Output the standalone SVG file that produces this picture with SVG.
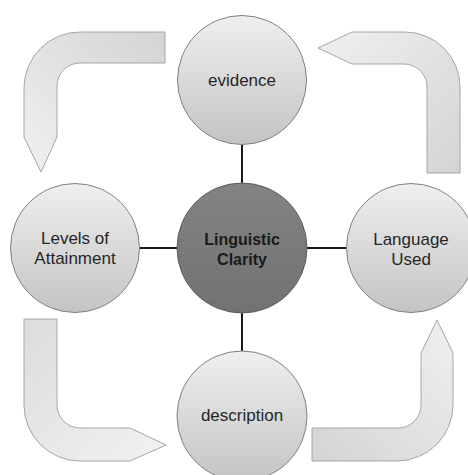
<svg xmlns="http://www.w3.org/2000/svg" width="468" height="475" viewBox="0 0 468 475">
  <defs>
    <linearGradient id="gc" x1="0" y1="0" x2="0" y2="1">
      <stop offset="0" stop-color="#efefef"/>
      <stop offset="1" stop-color="#c4c4c4"/>
    </linearGradient>
    <linearGradient id="gm" x1="0" y1="0" x2="0" y2="1">
      <stop offset="0" stop-color="#838383"/>
      <stop offset="1" stop-color="#727272"/>
    </linearGradient>
    <linearGradient id="a1" x1="1" y1="0" x2="0" y2="1">
      <stop offset="0" stop-color="#d4d4d4"/>
      <stop offset="1" stop-color="#f0f0f0"/>
    </linearGradient>
    <linearGradient id="a2" x1="1" y1="1" x2="0" y2="0">
      <stop offset="0" stop-color="#d4d4d4"/>
      <stop offset="1" stop-color="#f0f0f0"/>
    </linearGradient>
    <linearGradient id="a3" x1="0" y1="0" x2="1" y2="1">
      <stop offset="0" stop-color="#dcdcdc"/>
      <stop offset="1" stop-color="#f2f2f2"/>
    </linearGradient>
    <linearGradient id="a4" x1="0" y1="1" x2="1" y2="0">
      <stop offset="0" stop-color="#d4d4d4"/>
      <stop offset="1" stop-color="#f0f0f0"/>
    </linearGradient>
  </defs>
  <style>
    .node { fill: url(#gc); stroke: #7f7f7f; stroke-width: 1; }
    .hub { fill: url(#gm); stroke: #5a5a5a; stroke-width: 1; }
    .arrow { stroke: #a6a6a6; stroke-width: 1; }
    .conn { stroke: #1a1a1a; stroke-width: 2; fill: none; }
    text { font-family: "Liberation Sans", Arial, sans-serif; font-size: 17px; fill: #262626; text-anchor: middle; }
    .bold { font-weight: bold; fill: #1a1a1a; font-size: 16px; }
  </style>
  <rect width="468" height="475" fill="#ffffff"/>

  <g id="arrows">
    <path class="arrow" fill="url(#a1)" d="M 165,32 L 80,32 A 56,56 0 0 0 24,88 L 24,137 L 41,172 L 57,137 L 57,86 A 23,23 0 0 1 80,63 L 165,63 Z"/>
    <path class="arrow" fill="url(#a2)" d="M 318,48 L 352,32 L 405,32 A 55,55 0 0 1 460,87 L 460,173 L 427,173 L 427,87 A 23,23 0 0 0 404,64 L 352,64 Z"/>
    <path class="arrow" fill="url(#a3)" d="M 24,319 L 57,319 L 57,405 A 23,23 0 0 0 80,428 L 130,428 L 166,445 L 130,461 L 80,461 A 56,56 0 0 1 24,405 Z"/>
    <path class="arrow" fill="url(#a4)" d="M 312,428 L 398,428 A 23,23 0 0 0 421,405 L 421,353 L 437,320 L 453,353 L 453,405 A 56,56 0 0 1 397,461 L 312,461 Z"/>
  </g>

  <g id="connectors">
    <line class="conn" x1="242" y1="145" x2="242" y2="184"/>
    <line class="conn" x1="139" y1="248" x2="177" y2="248"/>
    <line class="conn" x1="307" y1="248" x2="347" y2="248"/>
    <line class="conn" x1="242" y1="313" x2="242" y2="352"/>
  </g>

  <g id="node-evidence">
    <circle class="node" cx="242" cy="80" r="64.5"/>
    <text x="242" y="86">evidence</text>
  </g>

  <g id="node-levels">
    <circle class="node" cx="75" cy="248" r="64.5"/>
    <text x="75" y="244">Levels of</text>
    <text x="75" y="264">Attainment</text>
  </g>

  <g id="node-center">
    <circle class="hub" cx="242" cy="248" r="65"/>
    <text class="bold" x="242" y="245">Linguistic</text>
    <text class="bold" x="242" y="265">Clarity</text>
  </g>

  <g id="node-language">
    <circle class="node" cx="411" cy="248" r="64.5"/>
    <text x="411" y="245">Language</text>
    <text x="411" y="265">Used</text>
  </g>

  <g id="node-description">
    <circle class="node" cx="242" cy="416" r="65"/>
    <text x="242" y="421">description</text>
  </g>
</svg>
